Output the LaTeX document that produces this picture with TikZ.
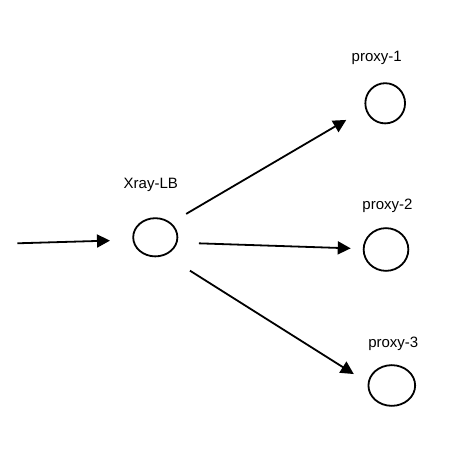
\documentclass[tikz,border=0pt]{standalone}
\usepackage{fontspec}
\setmainfont{Liberation Sans}
\usetikzlibrary{shapes,arrows.meta,calc}

\tikzset{
  server/.style={ellipse, draw=black, line width=1.8pt, inner sep=0pt},
  every label/.style={font=\fontsize{15}{18}\selectfont, inner sep=0pt},
  link/.style={line width=1.8pt, -{Triangle[length=13pt,width=13pt]}}
}

\begin{document}
\begin{tikzpicture}[x=1pt, y=-1pt]
  \useasboundingbox (0,0) rectangle (467,465);

  \node[server, minimum width=44.2pt, minimum height=38.2pt, label={[xshift=-4.5pt, label distance=25pt]above:Xray-LB}] (lb) at (155.3,237.3) {};
  \node[server, minimum width=39.7pt, minimum height=40.2pt, label={[xshift=-8.5pt, label distance=17pt]above:proxy-1}] (p1) at (385.2,103.3) {};
  \node[server, minimum width=44.7pt, minimum height=42.7pt, label={[xshift=1.5pt, label distance=14pt]above:proxy-2}] (p2) at (386,249.5) {};
  \node[server, minimum width=46.7pt, minimum height=40.7pt, label={[xshift=1.5pt, label distance=13.5pt]above:proxy-3}] (p3) at (391.8,385.5) {};

  \coordinate (src) at (17.3,243.3);

  % incoming traffic
  \draw[link, shorten >=45.3pt] (src) -- ([yshift=-2pt]lb.center);

  % balancing to the proxies
  \draw[link, shorten <=35.8pt, shorten >=45.1pt] ([yshift=5.3pt]lb.center) -- ([yshift=6.2pt]p1.center);
  \draw[link, shorten <=43.7pt, shorten >=35.3pt] ([yshift=-4.6pt]lb.center) -- (p2.center);
  \draw[link, shorten <=41pt, shorten >=44.9pt] ([yshift=-11.5pt]lb.center) -- ([yshift=-12.5pt]p3.center);

\end{tikzpicture}
\end{document}
